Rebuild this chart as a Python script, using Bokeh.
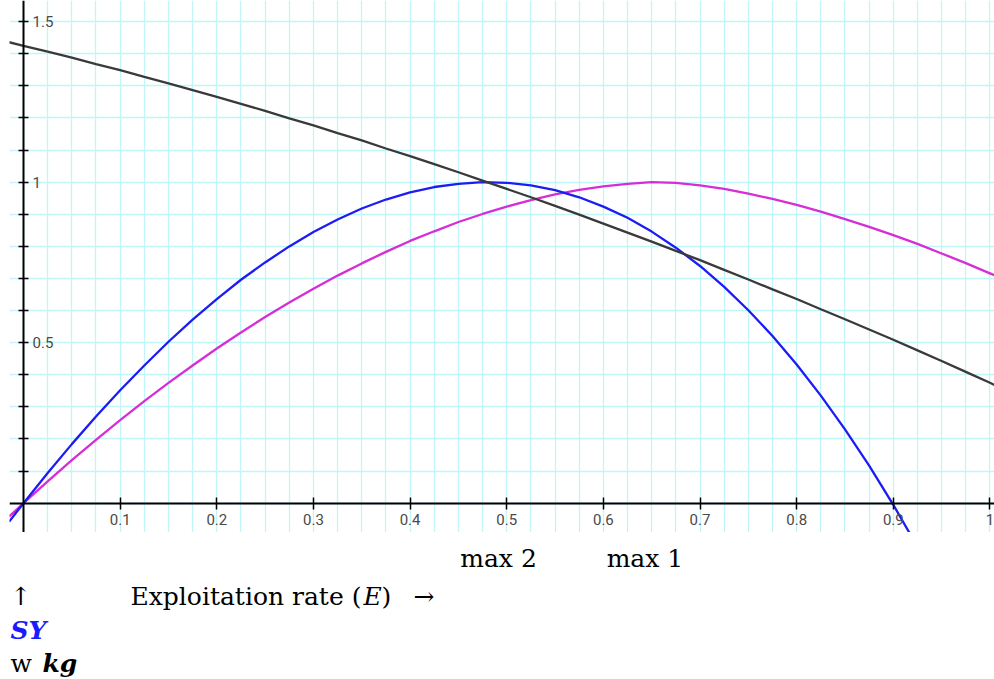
from bokeh.plotting import figure
from bokeh.layouts import column
from bokeh.models import (LinearAxis, Grid, FixedTicker, SingleIntervalTicker,
                          NumeralTickFormatter, Label, Range1d)
from bokeh.embed import file_html
from bokeh.resources import INLINE

# Exploitation rate E and the curves drawn against it
E = [-0.015, 0.0, 0.025, 0.05, 0.075, 0.10, 0.125, 0.15, 0.175, 0.20, 0.225, 0.25,
     0.275, 0.30, 0.325, 0.35, 0.375, 0.40, 0.425, 0.45, 0.475, 0.50, 0.525, 0.55,
     0.575, 0.60, 0.625, 0.65, 0.675, 0.70, 0.725, 0.75, 0.775, 0.80, 0.825, 0.85,
     0.875, 0.90, 0.925, 0.95, 0.975, 1.00, 1.01]
black_curve = [1.436, 1.425, 1.407, 1.388, 1.368, 1.349, 1.328, 1.308, 1.287, 1.266,
               1.244, 1.222, 1.199, 1.177, 1.153, 1.130, 1.105, 1.081, 1.056, 1.031,
               1.005, 0.979, 0.953, 0.926, 0.899, 0.871, 0.843, 0.815, 0.786, 0.757,
               0.727, 0.697, 0.666, 0.636, 0.604, 0.573, 0.541, 0.509, 0.476, 0.443,
               0.409, 0.375, 0.361]
magenta_curve = [-0.042, 0.000, 0.068, 0.134, 0.197, 0.259, 0.318, 0.375, 0.429, 0.482,
                 0.532, 0.580, 0.625, 0.668, 0.709, 0.747, 0.783, 0.817, 0.847, 0.876,
                 0.901, 0.924, 0.944, 0.962, 0.976, 0.987, 0.995, 1.000, 0.998, 0.990,
                 0.979, 0.964, 0.948, 0.929, 0.908, 0.885, 0.861, 0.835, 0.808, 0.778,
                 0.748, 0.716, 0.703]
E_blue = [-0.015, 0.0, 0.025, 0.05, 0.075, 0.10, 0.125, 0.15, 0.175, 0.20, 0.225, 0.25,
          0.275, 0.30, 0.325, 0.35, 0.375, 0.40, 0.425, 0.45, 0.475, 0.50, 0.525, 0.55,
          0.575, 0.60, 0.625, 0.65, 0.675, 0.70, 0.725, 0.75, 0.775, 0.80, 0.825, 0.85,
          0.875, 0.90, 0.925, 0.95]
blue_curve = [-0.058, 0.000, 0.094, 0.184, 0.270, 0.352, 0.429, 0.503, 0.572, 0.636,
              0.696, 0.750, 0.800, 0.845, 0.884, 0.918, 0.946, 0.968, 0.985, 0.995,
              1.000, 0.998, 0.990, 0.975, 0.953, 0.924, 0.889, 0.846, 0.796, 0.739,
              0.674, 0.601, 0.521, 0.432, 0.335, 0.230, 0.117, -0.005, -0.136, -0.275]

x_ticks = [0.1, 0.2, 0.3, 0.4, 0.5, 0.6, 0.7, 0.8, 0.9, 1.0]
y_major = [0.5, 1.0, 1.5]
y_minor = [0.1, 0.2, 0.3, 0.4, 0.6, 0.7, 0.8, 0.9, 1.1, 1.2, 1.3, 1.4]

X_LO, X_HI = -0.0145, 1.0047
Y_LO, Y_HI = -0.0913, 1.566
W = 994
PLOT_H, TEXT_H = 532, 147
LEFT = 9

p = figure(width=W, height=PLOT_H, title=None,
           x_range=Range1d(X_LO, X_HI), y_range=Range1d(Y_LO, Y_HI),
           x_axis_type=None, y_axis_type=None,
           toolbar_location=None, output_backend="svg",
           min_border_left=LEFT, min_border_right=0, min_border_top=0,
           min_border_bottom=0, outline_line_color=None,
           background_fill_color="white", border_fill_color="white")

# pale cyan graph-paper grid
grid_color = "#c0f6f9"
p.add_layout(Grid(dimension=0, ticker=SingleIntervalTicker(interval=0.025),
                  grid_line_color=grid_color, grid_line_width=1.3))
p.add_layout(Grid(dimension=1, ticker=SingleIntervalTicker(interval=0.1),
                  grid_line_color=grid_color, grid_line_width=1.3))

p.line(E, magenta_curve, line_color="#d62ed6", line_width=2.3)
p.line(E_blue, blue_curve, line_color="#1c1cf5", line_width=2.3)
p.line(E, black_curve, line_color="#3a3a3a", line_width=2.3)

tick_font = "Roboto"

xaxis = LinearAxis(fixed_location=0, ticker=FixedTicker(ticks=x_ticks),
                   formatter=NumeralTickFormatter(format="0.[0]"),
                   axis_line_color="black", axis_line_width=2,
                   major_tick_in=6, major_tick_out=6, major_tick_line_width=1.5,
                   major_tick_line_color="black", minor_tick_line_color=None,
                   major_label_standoff=5, major_label_text_font=tick_font,
                   major_label_text_font_size="15px",
                   major_label_text_color="#4a4a4a")
p.add_layout(xaxis, "below")

yaxis = LinearAxis(fixed_location=0,
                   ticker=FixedTicker(ticks=y_major, minor_ticks=y_minor),
                   formatter=NumeralTickFormatter(format="0.[0]"),
                   axis_line_color="black", axis_line_width=2,
                   major_tick_in=5, major_tick_out=5, major_tick_line_width=1.5,
                   major_tick_line_color="black",
                   minor_tick_in=5, minor_tick_out=5, minor_tick_line_width=1.5,
                   minor_tick_line_color="black",
                   major_label_standoff=4, major_label_text_font=tick_font,
                   major_label_text_font_size="15px",
                   major_label_text_color="#4a4a4a")
p.add_layout(yaxis, "right")

# caption strip under the graph; shares the E scale, y counts pixels downward
notes = figure(width=W, height=TEXT_H, title=None,
               x_range=p.x_range, y_range=Range1d(TEXT_H, 0),
               x_axis_type=None, y_axis_type=None,
               toolbar_location=None, output_backend="svg",
               min_border_left=LEFT, min_border_right=0, min_border_top=0,
               min_border_bottom=0, outline_line_color=None,
               background_fill_color="white", border_fill_color="white")


def dx(px):
    """Canvas pixel column -> E value."""
    return X_LO + (px - LEFT) * (X_HI - X_LO) / (W - LEFT)


serif = "DejaVu Serif"


def note(text, x, row, align="left", style="normal", color="black"):
    notes.add_layout(Label(x=x, y=row - PLOT_H, text=text, text_align=align,
                           text_baseline="alphabetic", text_font=serif,
                           text_font_size="25px", text_font_style=style,
                           text_color=color))


note("max 2", 0.4915, 558, align="center")
note("max 1", 0.643, 558, align="center")
note("\u2191", dx(10), 596)
note("Exploitation rate (", dx(130), 596)
note("E", dx(363), 596, style="italic")
note(")", dx(381), 596)
note("\u2192", dx(413), 596)
note("SY", dx(10), 630, style="bold italic", color="#1a1aff")
note("w", dx(10), 663)
note("kg", dx(42), 663, style="bold italic")

open("out.html", "w").write(file_html(column(p, notes, spacing=0), INLINE))
